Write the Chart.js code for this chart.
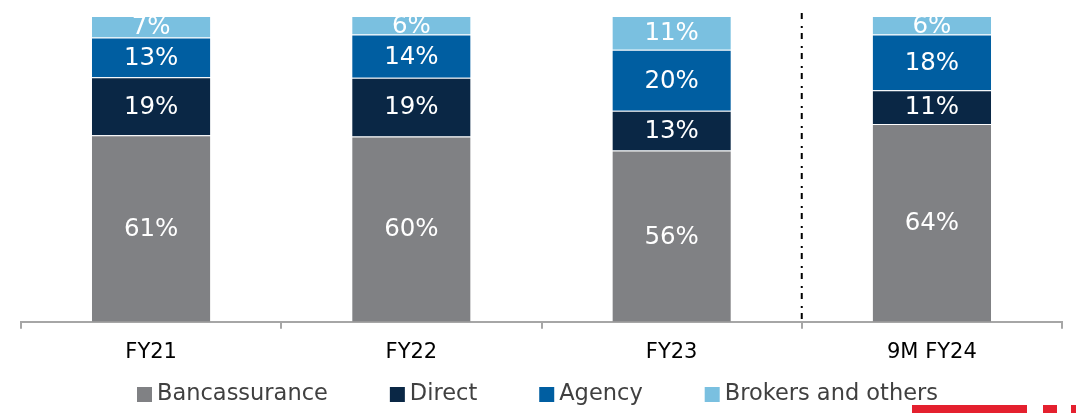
<!DOCTYPE html>
<html>
<head>
<meta charset="utf-8">
<script src="https://cdn.jsdelivr.net/npm/chart.js@4.4.1/dist/chart.umd.min.js"></script>
<style>
  html, body { margin: 0; padding: 0; background: #fff; }
  #wrap { position: relative; width: 1076px; height: 413px; }
  .logo { position: absolute; background: #e4202e; height: 8px; top: 405px; }
</style>
</head>
<body>
<div id="wrap">
  <canvas id="mixChart" width="1076" height="413"></canvas>
  <div class="logo" style="left:912px;width:115px"></div>
  <div class="logo" style="left:1043px;width:14px"></div>
  <div class="logo" style="left:1071px;width:5px"></div>
</div>
<script>
// channel mix data, % of total
const categories = ['FY21', 'FY22', 'FY23', '9M FY24'];
const bancassurance = [61, 60, 56, 64];
const direct = [19, 19, 13, 11];
const agency = [13, 14, 20, 18];
const brokers = [7, 6, 11, 6];

const FONT = "'DejaVu Sans', Verdana, sans-serif";

// 100% stacked: each column scaled to its own total (rounded labels don't always add to 100)
const totals = categories.map((c, i) => bancassurance[i] + direct[i] + agency[i] + brokers[i]);

// white % labels in the middle of each segment
const segmentLabels = {
    id: 'segmentLabels',
    afterDatasetsDraw(chart) {
        const ctx = chart.ctx;
        ctx.save();
        ctx.font = '24.5px ' + FONT;
        ctx.fillStyle = '#ffffff';
        ctx.textAlign = 'center';
        ctx.textBaseline = 'middle';
        chart.data.datasets.forEach((ds, i) => {
            const meta = chart.getDatasetMeta(i);
            meta.data.forEach((bar, j) => {
                const mid = (bar.y + bar.base) / 2;
                ctx.fillText(ds.values[j] + '%', bar.x, mid + 1);
            });
        });
        ctx.restore();
    }
};

// dash-dot separator between FY23 and 9M FY24
const separator = {
    id: 'separator',
    afterDraw(chart) {
        const x = chart.scales.x;
        const px = (x.getPixelForValue(2) + x.getPixelForValue(3)) / 2;
        const ctx = chart.ctx;
        ctx.save();
        ctx.strokeStyle = '#000';
        ctx.lineWidth = 2;
        ctx.setLineDash([6, 7, 2, 5]);
        ctx.beginPath();
        ctx.moveTo(px, 13);
        ctx.lineTo(px, chart.chartArea.bottom);
        ctx.stroke();
        ctx.restore();
    }
};

// legend drawn by hand so the item gap and vertical spot match
const bottomLegend = {
    id: 'bottomLegend',
    afterDraw(chart) {
        const ctx = chart.ctx;
        const box = 15, gapText = 5, gapItem = 62, cy = 394;
        ctx.save();
        ctx.font = '22.5px ' + FONT;
        ctx.textBaseline = 'middle';
        let x = 137;
        chart.data.datasets.forEach(ds => {
            ctx.fillStyle = ds.backgroundColor;
            ctx.fillRect(x, cy - 7, box, box);
            ctx.fillStyle = '#404040';
            ctx.fillText(ds.label, x + box + gapText, cy);
            x += box + gapText + ctx.measureText(ds.label).width + gapItem;
        });
        ctx.restore();
    }
};

function series(label, values, color) {
    return {
        label: label,
        values: values,
        data: values.map((v, i) => v / totals[i] * 100),
        backgroundColor: color,
        borderColor: 'rgba(255,255,255,0.35)',
        borderWidth: { top: 1, left: 0, right: 0, bottom: 0 },
        borderSkipped: false,
        barPercentage: 0.455,
        categoryPercentage: 1
    };
}

const ctx = document.getElementById('mixChart').getContext('2d');
const mixChart = new Chart(ctx, {
    type: 'bar',
    data: {
        labels: categories,
        datasets: [
            series('Bancassurance', bancassurance, '#808184'),
            series('Direct', direct, '#0a2745'),
            series('Agency', agency, '#005ea1'),
            series('Brokers and others', brokers, '#7ac0e0')
        ]
    },
    options: {
        responsive: false,
        animation: false,
        layout: { padding: { left: 21, right: 14, top: 16, bottom: 37 } },
        plugins: {
            tooltip: { enabled: false },
            legend: { display: false }
        },
        scales: {
            x: {
                stacked: true,
                grid: {
                    drawOnChartArea: false,
                    tickLength: 7,
                    color: '#a6a6a6',
                    lineWidth: 2
                },
                border: { color: '#a6a6a6', width: 2 },
                ticks: {
                    color: '#000',
                    padding: 11,
                    font: { family: FONT, size: 21 }
                }
            },
            y: {
                stacked: true,
                display: false,
                min: 0,
                max: 100
            }
        }
    },
    plugins: [segmentLabels, separator, bottomLegend]
});
</script>
</body>
</html>
